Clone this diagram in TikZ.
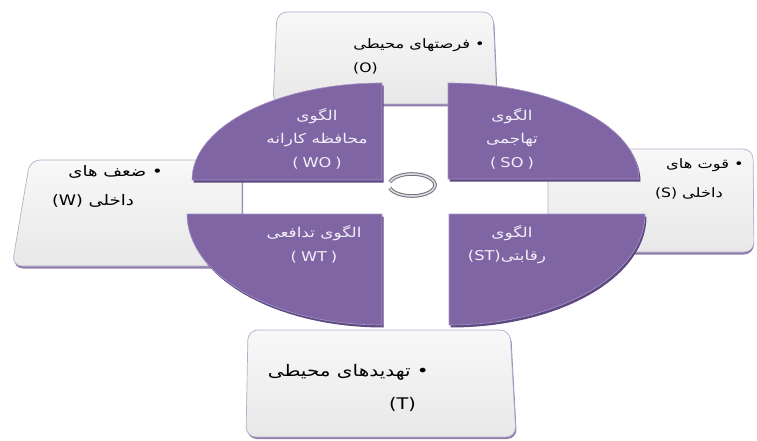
\documentclass[tikz,border=0pt]{standalone}
\usepackage{fontspec}
\setmainfont{DejaVu Sans}
\newfontfamily\arabicfont[Script=Arabic, FakeStretch=1.25]{DejaVu Sans}
\newfontfamily\latw[FakeStretch=1.2]{DejaVu Sans}
\TeXXeTstate=1
\newcommand\fa[1]{{\arabicfont\beginR #1\endR}}
\newcommand\lab[1]{{\latw(\hskip4pt#1\hskip4pt)}}
\definecolor{quadfill}{HTML}{7F65A3}
\definecolor{quaddark}{HTML}{5E4A80}
\definecolor{quadlight}{HTML}{A895C8}
\definecolor{qtxt}{HTML}{F3F0F8}
\definecolor{boxline}{HTML}{B8ADCB}
\definecolor{boxtop}{HTML}{F8F8F8}
\definecolor{boxbot}{HTML}{E8E8E8}
\definecolor{boxsh}{HTML}{8E7EAB}
\definecolor{ringc}{HTML}{A6A2B3}
\begin{document}
\begin{tikzpicture}[x=1pt,y=-1pt,
  box/.style={draw=boxline, line width=0.7pt, top color=boxtop, bottom color=boxbot, rounded corners=10pt},
  boxshadow/.style={fill=boxsh, rounded corners=10pt},
  quad/.style={fill=quadfill, draw=quadlight, line width=0.6pt},
  quadsh/.style={fill=quaddark},
  qtext/.style={text=qtxt, font=\fontsize{13.5}{15}\selectfont, inner sep=0pt},
  btext/.style={text=black, font=\fontsize{13}{15}\selectfont, inner sep=0pt},
  wtext/.style={text=black, font=\fontsize{14.5}{16}\selectfont, inner sep=0pt},
  bigtext/.style={text=black, font=\fontsize{16}{18}\selectfont, inner sep=0pt}]
\useasboundingbox (0,0) rectangle (757,441);
% boxes (behind)
\fill[boxshadow, shift={(1,2.5)}] (277,12) -- (493,12) -- (497,104) -- (273,104) -- cycle;
\path[box] (277,12) -- (493,12) -- (497,104) -- (273,104) -- cycle;
\fill[boxshadow, shift={(1,2.5)}] (30,160) -- (242,160) -- (242,266) -- (12,266) -- cycle;
\path[box] (30,160) -- (242,160) -- (242,266) -- (12,266) -- cycle;
\fill[boxshadow, shift={(0,2.5)}] (548,149) -- (753,149) -- (754,252) -- (548,252) -- cycle;
\path[box] (548,149) -- (753,149) -- (754,252) -- (548,252) -- cycle;
\fill[boxshadow, shift={(1,2)}] (248,330) -- (510,330) -- (516,437) -- (246,437) -- cycle;
\path[box] (248,330) -- (510,330) -- (516,437) -- (246,437) -- cycle;
% quadrants
\fill[quadsh, shift={(1.5,2.5)}] (382,180) -- (192,180) arc[start angle=180, end angle=90, x radius=190pt, y radius=97pt] -- cycle;
\path[quad] (382,180) -- (192,180) arc[start angle=180, end angle=90, x radius=190pt, y radius=97pt] -- cycle;
\fill[quadsh, shift={(1.5,2.5)}] (448,179) -- (448,83) arc[start angle=90, end angle=0, x radius=191pt, y radius=96pt] -- cycle;
\path[quad] (448,179) -- (448,83) arc[start angle=90, end angle=0, x radius=191pt, y radius=96pt] -- cycle;
\fill[quadsh, shift={(1.5,2.5)}] (382,214) -- (187,214) arc[start angle=180, end angle=270, x radius=195pt, y radius=111pt] -- cycle;
\path[quad] (382,214) -- (187,214) arc[start angle=180, end angle=270, x radius=195pt, y radius=111pt] -- cycle;
\fill[quadsh, shift={(1.5,2.5)}] (449,214) -- (449,325) arc[start angle=270, end angle=360, x radius=196pt, y radius=111pt] -- cycle;
\path[quad] (449,214) -- (449,325) arc[start angle=270, end angle=360, x radius=196pt, y radius=111pt] -- cycle;
% ring
\coordinate (rc) at (412,185);
\draw[ringc!70!black, line width=3.6pt] (rc) ++(195:23pt and 11pt) arc[start angle=195, end angle=525, x radius=23pt, y radius=11pt];
\draw[ringc!40!white, line width=1.6pt] (rc) ++(195:23pt and 11pt) arc[start angle=195, end angle=525, x radius=23pt, y radius=11pt];
% quadrant texts
\node[qtext] (wo1) at (317,116) {\fa{الگوی}};
\node[qtext] (wo2) at (317,140) {\fa{محافظه کارانه}};
\node[qtext] (wo3) at (317,163) {\lab{WO}};
\node[qtext] (so1) at (512,116) {\fa{الگوی}};
\node[qtext] (so2) at (512,140) {\fa{تهاجمی}};
\node[qtext] (so3) at (512,163) {\lab{SO}};
\node[qtext] (wt1) at (314,233) {\fa{الگوی تدافعی}};
\node[qtext] (wt2) at (314,257) {\lab{WT}};
\node[qtext] (st1) at (512,233) {\fa{الگوی}};
\node[qtext] (st2) at (507,257) {{\latw(ST)}\fa{رقابتی}};
% box texts
\node[btext, anchor=east] (o1) at (485,45) {\fa{• فرصتهای محیطی}};
\node[btext, anchor=west] (o2) at (353,68) {\latw(O)};
\node[wtext, anchor=east] (w1) at (163,172) {\fa{• ضعف های}};
\node[wtext, anchor=west] (w2) at (52,201) {\latw(W) \fa{داخلی}};
\node[btext, anchor=east] (s1) at (744,165) {\fa{• قوت های}};
\node[btext, anchor=east] (s2) at (723,193) {\latw(S) \fa{داخلی}};
\node[bigtext, anchor=east] (t1) at (429,372) {\fa{• تهدیدهای محیطی}};
\node[bigtext, anchor=east] (t2) at (416,404) {\latw(T)};
\end{tikzpicture}
\end{document}
